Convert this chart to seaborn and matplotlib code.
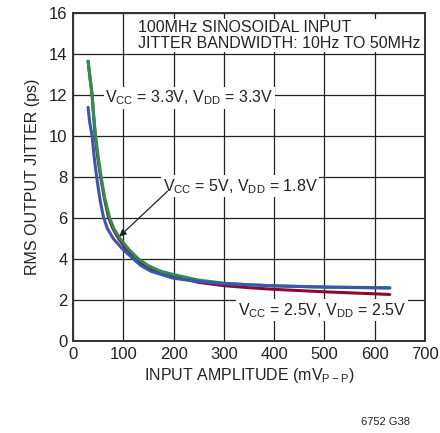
import numpy as np
import pandas as pd
import matplotlib
matplotlib.use("Agg")
import matplotlib.pyplot as plt
import seaborn as sns

# data
x_red = [30, 34, 38, 41, 44, 49, 55, 62, 71, 80, 92, 106, 124, 145, 170, 200, 250, 300, 350, 400, 500, 630]
y_red = [13.65, 12.8, 12.0, 11.0, 10.0, 9.0, 8.0, 7.0, 6.0, 5.45, 4.95, 4.5, 4.05, 3.62, 3.32, 3.14, 2.86, 2.7, 2.6, 2.52, 2.4, 2.27]
x_green = [30, 34, 38, 41, 45, 50, 56, 63, 73, 82, 95, 110, 128, 150, 175, 200, 250, 300, 350, 400, 500, 630]
y_green = [13.65, 12.8, 12.0, 11.0, 10.0, 9.0, 8.0, 7.0, 6.0, 5.45, 4.95, 4.5, 4.05, 3.67, 3.4, 3.24, 2.97, 2.82, 2.74, 2.69, 2.63, 2.6]
x_blue = [30, 33, 38, 42, 47, 53, 60, 68, 80, 98, 118, 135, 155, 200, 250, 300, 400, 500, 630]
y_blue = [11.4, 10.7, 10.0, 9.0, 8.0, 7.0, 6.1, 5.5, 5.0, 4.5, 4.05, 3.68, 3.4, 3.06, 2.9, 2.8, 2.69, 2.63, 2.58]
series_names = ["VCC=2.5V,VDD=2.5V", "VCC=3.3V,VDD=3.3V", "VCC=5V,VDD=1.8V"]
colors = ["#8c0a2e", "#2f8f4e", "#3a55b4"]
x_ticks = [0, 100, 200, 300, 400, 500, 600, 700]
y_ticks = [0, 2, 4, 6, 8, 10, 12, 14, 16]

frames = []
for name, xs, ys in zip(series_names, [x_red, x_green, x_blue], [y_red, y_green, y_blue]):
    frames.append(pd.DataFrame({"x": xs, "y": ys, "s": name}))
df = pd.concat(frames, ignore_index=True)

sns.set_style("white")
plt.rcParams['font.family'] = ['Liberation Sans', 'DejaVu Sans']
plt.rcParams['mathtext.fontset'] = 'custom'
plt.rcParams['mathtext.rm'] = 'Liberation Sans'

fig = plt.figure(figsize=(4.4, 4.33), dpi=100)
ax = fig.add_axes([73/440, 1-341/433, (425-73)/440, (341-13)/433])

sns.lineplot(data=df, x="x", y="y", hue="s", palette=dict(zip(series_names, colors)),
             linewidth=2.2, legend=False, ax=ax, estimator=None, sort=False)

ax.set_xlim(0, 700)
ax.set_ylim(0, 16)
ax.set_xticks(x_ticks)
ax.set_yticks(y_ticks)
ax.grid(True, color="#222222", linewidth=0.9)
ax.set_axisbelow(True)
for sp in ax.spines.values():
    sp.set_color("#333333")
    sp.set_linewidth(1.4)
ax.tick_params(labelsize=12, length=0, pad=4, colors="#222222")
ax.set_xlabel("INPUT AMPLITUDE (mV$_{\\mathregular{P-P}}$)", fontsize=11.5, color="#222222", labelpad=3)
ax.set_ylabel("RMS OUTPUT JITTER (ps)", fontsize=11.5, color="#222222", labelpad=6)

bb = dict(facecolor="white", edgecolor="none", pad=1.2)
ax.text(130, 15.65, "100MHz SINOSOIDAL INPUT\nJITTER BANDWIDTH: 10Hz TO 50MHz", fontsize=11.5,
        va="top", ha="left", color="#222222", bbox=bb, linespacing=1.05)
ax.text(64, 11.85, "V$_{\\mathregular{CC}}$ = 3.3V, V$_{\\mathregular{DD}}$ = 3.3V", fontsize=11.5,
        va="center", ha="left", color="#222222", bbox=bb)
ax.text(178, 7.55, "V$_{\\mathregular{CC}}$ = 5V, V$_{\\mathregular{DD}}$ = 1.8V", fontsize=11.5,
        va="center", ha="left", color="#222222", bbox=bb)
ax.text(328, 1.5, "V$_{\\mathregular{CC}}$ = 2.5V, V$_{\\mathregular{DD}}$ = 2.5V", fontsize=11.5,
        va="center", ha="left", color="#222222", bbox=bb)
ax.annotate("", xy=(88, 5.0), xytext=(192, 7.4),
            arrowprops=dict(arrowstyle="-|>", color="#222222", lw=0.9, mutation_scale=10))
fig.text(410/440, 1-422/433, "6752 G38", fontsize=8, ha="right", va="center", color="#222222")

fig.savefig("out.png", dpi=100)
